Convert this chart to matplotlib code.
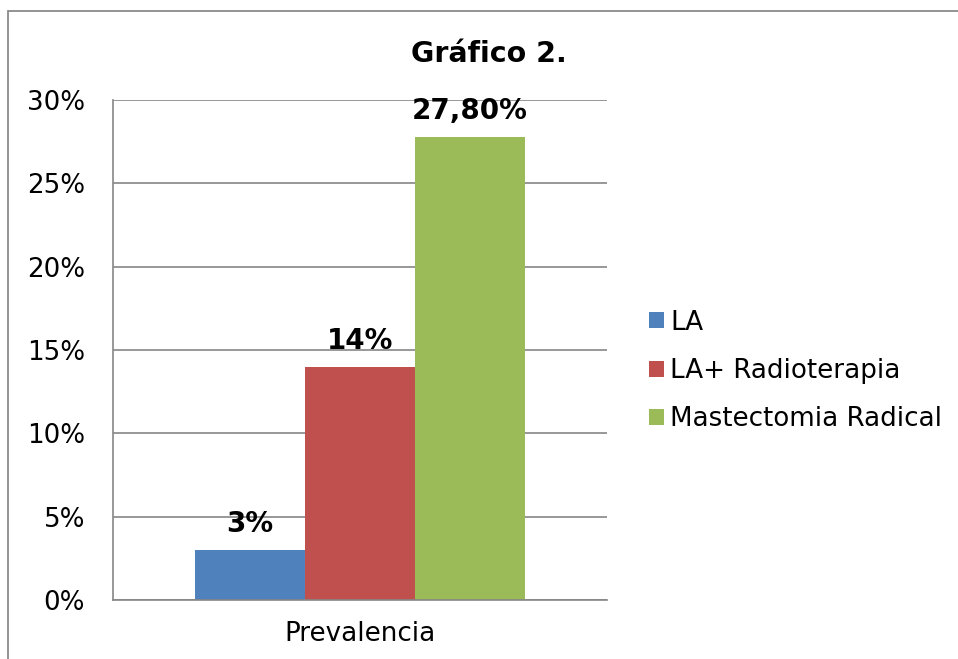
import matplotlib
matplotlib.use("Agg")
import matplotlib.pyplot as plt
from matplotlib.patches import Rectangle
from matplotlib.ticker import FuncFormatter
import numpy as np

# ---------- data ----------
CATEGORY = "Prevalencia"
SERIES = ["LA", "LA+ Radioterapia", "Mastectomia Radical"]
VALUES = [3.0, 14.0, 27.8]
LABELS = ["3%", "14%", "27,80%"]
YTICKS = [0, 5, 10, 15, 20, 25, 30]
COLORS = ["#4F81BD", "#C0504D", "#9BBB59"]
GRID = "#868686"

plt.rcParams.update({"font.family": "DejaVu Sans", "font.size": 18.8})

fig = plt.figure(figsize=(9.58, 6.59), dpi=100)
ax = fig.add_axes([113 / 958, 1 - 600 / 659, 494 / 958, 500 / 659])

# outer chart frame (cut off at right/bottom like the source)
fig.patches.append(Rectangle((7.5 / 958, -0.1), 1.2, 1 - 11 / 659 + 0.1,
                             transform=fig.transFigure, fill=False,
                             ec="#8a8a8a", lw=1.3))

w = 110 / 494
xs = (np.arange(len(SERIES)) - 1) * w
for x, v, c, s, lab in zip(xs, VALUES, COLORS, SERIES, LABELS):
    ax.bar(x, v, width=w, color=c, label=s, zorder=2)
    ax.annotate(lab, (x, v), xytext=(0, 13), textcoords="offset points",
                ha="center", va="baseline", fontsize=20, fontweight="bold",
                zorder=3)

ax.set_xlim(-0.5, 0.5)
ax.set_ylim(0, 30)
ax.set_yticks(YTICKS)
ax.yaxis.set_major_formatter(FuncFormatter(lambda v, p: f"{v:.0f}%"))
ax.set_xticks([0])
ax.set_xticklabels([CATEGORY])
ax.tick_params(axis="y", length=0, pad=20)
ax.tick_params(axis="x", length=0, pad=15)
ax.grid(axis="y", color=GRID, lw=1.2, zorder=0)
ax.set_axisbelow(True)
for sp in ("top", "right"):
    ax.spines[sp].set_visible(False)
for sp in ("left", "bottom"):
    ax.spines[sp].set_color(GRID)
    ax.spines[sp].set_linewidth(1.2)

fig.text(489 / 958, 1 - 62 / 659, "Gráfico 2.", ha="center", va="baseline",
         fontsize=20.5, fontweight="bold")

fig.legend(loc="center left", bbox_to_anchor=(649 / 958, 1 - 371 / 659),
           frameon=False, borderpad=0, borderaxespad=0, handlelength=0.57,
           handleheight=0.57, handletextpad=0.23, labelspacing=0.86,
           fontsize=18.8)

fig.savefig("out.png", dpi=100)
